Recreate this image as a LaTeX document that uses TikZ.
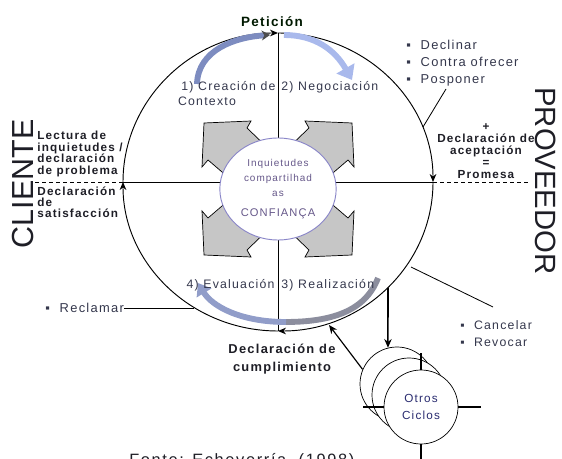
\documentclass[tikz,border=0pt]{standalone}
\usepackage{fontspec}
\setmainfont{Liberation Sans}[LetterSpace=10]
\newfontfamily\labelfont{Liberation Sans}
\usetikzlibrary{arrows.meta, shapes.geometric}
\definecolor{cink}{HTML}{1E1E26}
\definecolor{cnote}{HTML}{34374C}
\definecolor{cpurple}{HTML}{8A86C8}
\definecolor{cplum}{HTML}{66588A}
\definecolor{cshade}{HTML}{C6C6C6}
\definecolor{cblue}{HTML}{7D8CC0}
\definecolor{csky}{HTML}{A9B9EC}
\definecolor{cslate}{HTML}{8C8E9E}
\newcommand\bodysize{\fontsize{10.5}{11.5}\selectfont}
\tikzset{
  every picture/.style={line width=0.7pt},
  txt/.style={font=\bodysize, text=cnote, inner sep=0pt},
  strong/.style={font=\bodysize\bfseries, text=cink, inner sep=0pt},
  side/.style={font=\labelfont\fontsize{26}{26}\selectfont, text=cink, inner sep=0pt},
  ring/.style={-{Stealth[length=2.4mm, width=2mm]}, line width=0.8pt},
  arrow/.style={-{Stealth[length=2.6mm, width=2.2mm]}, line width=1pt},
  blockarrow/.style={draw=black, fill=cshade, line width=0.6pt},
  band/.style={line width=5pt},
  ciclo/.style={circle, draw, fill=white, minimum size=2.22cm, inner sep=0pt, line width=0.6pt},
  cross/.style={line width=2.4pt},
}

\begin{document}
\begin{tikzpicture}[x=0.03cm, y=-0.03cm]
  \useasboundingbox (0,0) rectangle (562,459);

  % cardinal points of the big cycle
  \coordinate (cleft) at (123,182);
  \coordinate (ctop) at (278,33);
  \coordinate (cright) at (433,182);
  \coordinate (cbot) at (278,331);

  % four gray block arrows around the centre
  \foreach \sx/\sy in {1/1, -1/1, 1/-1, -1/-1}{
    \begin{scope}[shift={(278,189)}, xscale=\sx, yscale=\sy]
      \draw[blockarrow] (-74,-66) -- (-27,-68) -- (-31,-61) -- (-6,-37) -- (-35,1)
        -- (-70,-29) -- (-76,-22) -- cycle;
    \end{scope}
  }

  \draw (ctop) -- (cbot);
  \draw (cleft) -- (cright);
  \coordinate (dashL) at (35,182);
  \coordinate (dashR) at (528,182);
  \draw[dashed] (cleft) -- (dashL);
  \draw[dashed] (cright) -- (dashR);

  \node[ellipse, draw=cpurple, fill=white, line width=0.8pt, minimum width=3.36cm, minimum height=3.06cm,
        align=center, text=cplum, font=\fontsize{8.5}{13}\selectfont] (inner) at (278,189)
       {Inquietudes\\compartilhad\\as\\[4pt]{\fontsize{9.5}{13}\selectfont CONFIANÇA}};

  % the big cycle, clockwise
  \draw[ring] (cleft) arc[start angle=180, end angle=270, x radius=155, y radius=149];
  \draw[ring] (ctop) arc[start angle=270, end angle=360, x radius=155, y radius=149];
  \draw[ring] (cright) arc[start angle=0, end angle=90, x radius=155, y radius=149];
  \draw[ring] (cbot) arc[start angle=90, end angle=180, x radius=155, y radius=149];

  % shaded phase bands
  \draw[band, cblue, -{Stealth[length=2.5mm, width=3mm, black!70]}] (197,84) .. controls (198,50) and (235,37) .. (270,35);
  \draw[band, csky, -{Triangle[length=4mm, width=6mm]}] (284,35) .. controls (315,35) and (335,50) .. (352,80);
  \draw[band, cslate] (378,278) .. controls (365,312) and (330,322) .. (285,322);
  \draw[band, cblue!85, -{Triangle[length=3.5mm, width=5mm]}] (286,322) .. controls (240,322) and (212,306) .. (198,283);

  % phases and speech acts
  \node[strong, font=\fontsize{11.5}{12}\selectfont\bfseries, text=black!80!green!50!black] (peticion) at (272,22) {Petición};
  \node[txt, anchor=base east] (crea) at (276,91) {1) Creación de};
  \node[txt, anchor=base] (contexto) at (207,106) {Contexto};
  \node[txt, anchor=base west] (nego) at (281,91) {2) Negociación};
  \node[txt, anchor=base east] (eval) at (275,289) {4) Evaluación};
  \node[txt, anchor=base west] (real) at (281,289) {3) Realización};
  \node[strong, align=center, font=\fontsize{11}{16}\selectfont\bfseries] (cumplimiento) at (282,359)
       {Declaración de\\cumplimiento};
  \node[strong, align=left, anchor=north west, font=\fontsize{10}{9.8}\selectfont\bfseries] (lectura) at (37,131)
       {Lectura de\\inquietudes /\\declaración\\de problema};
  \node[strong, align=left, anchor=north west, font=\fontsize{10}{9.8}\selectfont\bfseries] (satis) at (37,186)
       {Declaración\\de\\satisfacción};
  \node[strong, align=center, font=\fontsize{10}{10.2}\selectfont\bfseries] (promesa) at (486,151)
       {+\\Declaración de\\aceptación\\=\\Promesa};

  % side options
  \node[txt, align=left, anchor=north west, font=\fontsize{11}{14.5}\selectfont] (opciones) at (406,40)
       {▪\ \ Declinar\\▪\ \ Contra ofrecer\\▪\ \ Posponer};
  \node[txt, align=left, anchor=north west, font=\fontsize{10.5}{14.5}\selectfont] (cancel) at (460,320)
       {▪\ \ Cancelar\\▪\ \ Revocar};
  \node[txt, anchor=west, font=\fontsize{11}{12}\selectfont] (reclamar) at (45,308) {▪\ \ Reclamar};
  \coordinate (decfoot) at (446,89);
  \coordinate (decpt) at (423,127);
  \coordinate (canpt) at (411,267);
  \coordinate (canfoot) at (493,307);
  \coordinate (recpt) at (194,308);
  \draw (decfoot) -- (decpt);
  \draw (canpt) -- (canfoot);
  \draw (reclamar.east) -- (recpt);

  \node[side, rotate=90] (cliente) at (23,184) {CLIENTE};
  \node[side, rotate=-90, font=\labelfont\fontsize{25}{25}\selectfont] (proveedor) at (546,181) {PROVEEDOR};

  % other cycles
  \node[ciclo] (cyc1) at (397,384) {};
  \node[ciclo] (cyc2) at (409,395) {};
  \coordinate (front) at (421,407);
  \draw[cross] (front) ++(-58,0) -- ++(118,0);
  \draw[cross] (front) ++(0,-54) -- ++(0,120);
  \node[ciclo, align=center, text=cnote!80!blue, font=\fontsize{10}{15}\selectfont] (cyc3) at (front) {Otros\\Ciclos};
  \coordinate (relz) at (388,288);
  \coordinate (cumpt) at (329,325);
  \draw[arrow, line width=1.3pt] (relz) -- (cyc1.104);
  \draw[arrow] (cyc1.157) -- (cumpt);

  \node[anchor=base west, font=\fontsize{14}{14}\selectfont, text=cink] (fonte) at (125,465) {Fonte: Echeverría, (1998)};
\end{tikzpicture}
\end{document}
